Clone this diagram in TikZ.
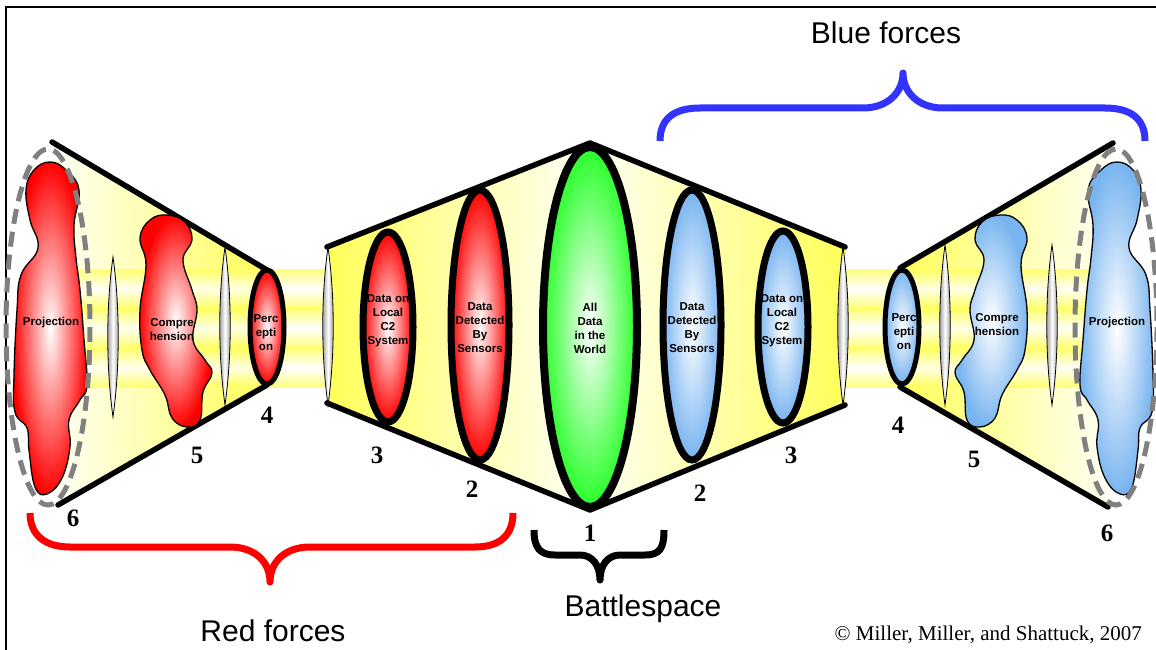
\documentclass[tikz,border=0pt]{standalone}
\usepackage{fontspec}
\setmainfont{Liberation Serif}
\setsansfont{Liberation Sans}
\definecolor{tubeyellow}{RGB}{255,255,90}
\definecolor{ringblue}{RGB}{120,180,240}
\definecolor{ringgreen}{RGB}{40,255,40}
\definecolor{braceblue}{RGB}{51,51,255}
\def\lens(#1:#2:#3){\shade[draw=black, line width=0.8pt, left color=gray!95, right color=gray!95, middle color=white] (#1,#2) .. controls (#1+7,#2+50) and (#1+7,#3-50) .. (#1,#3) .. controls (#1-7,#3-50) and (#1-7,#2+50) .. cycle;}
\def\projblob{plot[smooth cycle, tension=0.7] coordinates {(50,162) (66,170) (79,190) (74,225) (76,258) (80,290) (84,340) (87,385) (80,400) (69,420) (70,447) (62,478) (47,494) (35,487) (29,450) (27,428) (15,412) (14,375) (17,310) (21,275) (38,248) (30,220) (26,190) (34,170)}}
\def\compblob{plot[smooth cycle, tension=0.7] coordinates {(167,215) (185,222) (192,240) (183,260) (192,290) (197,310) (193,340) (205,360) (212,373) (203,392) (200,420) (187,427) (172,418) (165,395) (150,370) (142,350) (140,310) (146,265) (140,238) (150,220)}}

\begin{document}
\begin{tikzpicture}[x=1pt,y=-1pt,
	coneedge/.style={line width=5.5pt, line cap=round, line join=round},
	blobred/.style={draw=black, line width=1.3pt, inner color=white, outer color=red},
	blobblue/.style={draw=black, line width=1.3pt, inner color=white, outer color=ringblue},
	ringred/.style={draw=black, line width=7pt, inner color=white, outer color=red},
	ringblue/.style={draw=black, line width=7pt, inner color=white, outer color=ringblue},
	dashring/.style={draw=gray, line width=5pt, dash pattern=on 15pt off 8pt},
	txtlab/.style={font=\fontsize{11.5}{14}\selectfont\sffamily\bfseries, align=center, inner sep=0pt},
	numlab/.style={font=\fontsize{25}{25}\selectfont\bfseries, inner sep=0pt},
	bigtxt/.style={font=\fontsize{30}{32}\selectfont\sffamily, inner sep=0pt, anchor=base},
	bracestroke/.style={line width=7pt, line join=round}]
	\useasboundingbox (0,0) rectangle (1156,650);
	\fill[white] (0,0) rectangle (1156,650);
	\draw[line width=1.5pt] (6,652) -- (6,7) -- (1160,7);
	
	\shade[left color=yellow!3, right color=yellow!65] (52,142) -- (267,270) -- (267,385) -- (58,505) -- cycle;
	\shade[left color=yellow!65, right color=yellow!65, middle color=yellow!3] (327,247) -- (590,143) -- (845,247) -- (845,405) -- (590,510) -- (327,403) -- cycle;
	\shade[left color=yellow!65, right color=yellow!3] (900,268) -- (1113,143) -- (1108,507) -- (900,387) -- cycle;
	
	\foreach \y in {269,308.5,348}{
		\shade[top color=tubeyellow, bottom color=tubeyellow, middle color=white, opacity=0.8] (60,\y) rectangle (330,\y+39.5);
		\shade[top color=tubeyellow, bottom color=tubeyellow, middle color=white, opacity=0.8] (843,\y) rectangle (1105,\y+39.5);
	}
	
	\draw[coneedge] (52,142) -- (267,270);
	\draw[coneedge] (58,505) -- (267,385);
	\draw[coneedge] (327,247) -- (590,143) -- (845,247);
	\draw[coneedge] (327,403) -- (590,510) -- (845,405);
	\draw[coneedge] (900,268) -- (1113,143);
	\draw[coneedge] (900,387) -- (1108,507);
	
	\lens(113:257:417)
	\lens(225:247:405)
	\lens(328:247:405)
	\lens(843:247:405)
	\lens(945:245:405)
	\lens(1052:245:405)
	
	\shade[blobred] \projblob;
	\shade[blobred] \compblob;
	\shade[blobblue, xshift=1167pt, xscale=-1] \projblob;
	\shade[blobblue, xshift=1167pt, xscale=-1] \compblob;
	
	\shade[ringred, line width=5pt] (267,327) ellipse (17 and 57);
	\shade[ringred] (388,327) ellipse (25 and 95);
	\shade[ringred] (480,325) ellipse (29 and 135);
	\shade[draw=black, line width=8pt, inner color=white, outer color=ringgreen] (590,327) ellipse (47 and 180);
	\shade[ringblue] (692,325) ellipse (29 and 135);
	\shade[ringblue] (783,327) ellipse (25 and 96);
	\shade[ringblue, line width=5pt] (902,327) ellipse (17 and 57);
	
	\draw[dashring] (48,327) ellipse (42 and 178);
	\draw[dashring] (1116,327) ellipse (41 and 178);
	
	\node[txtlab] (projR) at (51,323) {Projection};
	\node[txtlab] (compR) at (172,330) {Compre\\hension};
	\node[txtlab] (percR) at (266,333) {Perc\\epti\\on};
	\node[txtlab] (localR) at (388,321) {Data on\\Local\\C2\\System};
	\node[txtlab] (sensR) at (480,328) {Data\\Detected\\By\\Sensors};
	\node[txtlab] (world) at (590,328) {All\\Data\\in the\\World};
	\node[txtlab] (sensB) at (692,328) {Data\\Detected\\By\\Sensors};
	\node[txtlab] (localB) at (782,321) {Data on\\Local\\C2\\System};
	\node[txtlab] (percB) at (904,332) {Perc\\epti\\on};
	\node[txtlab] (compB) at (997,325) {Compre\\hension};
	\node[txtlab] (projB) at (1117,323) {Projection};
	
	\node[numlab] (r6) at (73,518) {6};
	\node[numlab] (r5) at (197,455) {5};
	\node[numlab] (r4) at (267,415) {4};
	\node[numlab] (r3) at (377,455) {3};
	\node[numlab] (r2) at (472,489) {2};
	\node[numlab] (mid1) at (590,533) {1};
	\node[numlab] (b2) at (700,493) {2};
	\node[numlab] (b3) at (791,455) {3};
	\node[numlab] (b4) at (898,425) {4};
	\node[numlab] (b5) at (974,459) {5};
	\node[numlab] (b6) at (1107,533) {6};
	
	\draw[bracestroke, braceblue] (660,141) .. controls (660,118) and (675,108) .. (700,108) -- (863,108) .. controls (888,108) and (903,92) .. (903,73) .. controls (903,92) and (918,108) .. (943,108) -- (1105,108) .. controls (1130,108) and (1145,118) .. (1145,141);
	\draw[bracestroke, red] (30,513) .. controls (30,535) and (45,547) .. (70,547) -- (230,547) .. controls (255,547) and (270,562) .. (270,582) .. controls (270,562) and (285,547) .. (310,547) -- (475,547) .. controls (500,547) and (513,535) .. (513,513);
	\draw[bracestroke, black] (534,530) .. controls (534,548) and (540,555) .. (555,555) -- (580,555) .. controls (592,555) and (600,565) .. (600,580) .. controls (600,565) and (608,555) .. (620,555) -- (645,555) .. controls (660,555) and (664,548) .. (664,530);
	
	\node[bigtxt] (bluelab) at (886,44) {Blue forces};
	\node[bigtxt] (redlab) at (273,641) {Red forces};
	\node[bigtxt] (battle) at (643,616) {Battlespace};
	\node[font=\fontsize{21}{22}\selectfont, inner sep=0pt, anchor=base east] (copy) at (1142,640) {© Miller, Miller, and Shattuck, 2007};
\end{tikzpicture}
\end{document}
